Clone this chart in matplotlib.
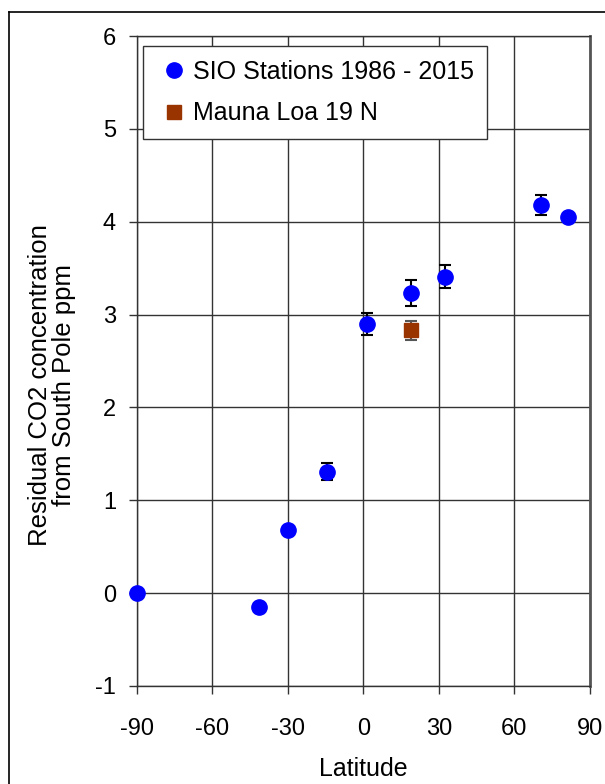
import matplotlib.pyplot as plt
from matplotlib.lines import Line2D

plt.rcParams['font.family'] = ['Liberation Sans', 'DejaVu Sans']

# SIO station latitudes and residual CO2 vs South Pole (ppm)
sio_lat = [-90, -41.5, -29.8, -14.5, 1.6, 18.8, 32.6, 70.6, 81.5]
sio_co2 = [0.0, -0.15, 0.68, 1.31, 2.90, 3.23, 3.41, 4.18, 4.05]
sio_err = [0.0, 0.03, 0.03, 0.095, 0.12, 0.14, 0.12, 0.11, 0.02]

mlo_lat = [18.8]
mlo_co2 = [2.83]
mlo_err = [0.1]

xticks = [-90, -60, -30, 0, 30, 60, 90]
yticks = [-1, 0, 1, 2, 3, 4, 5, 6]

fig = plt.figure(figsize=(6.05, 7.84), dpi=100)
ax = fig.add_axes([0.226, 0.125, 0.749, 0.829])

# outer frame (only left/top edges fall inside the picture)
fig.add_artist(Line2D([9 / 605, 9 / 605], [0, 1 - 12 / 784], transform=fig.transFigure,
                      color='black', lw=1.2))
fig.add_artist(Line2D([9 / 605, 1], [1 - 12 / 784, 1 - 12 / 784], transform=fig.transFigure,
                      color='black', lw=1.2))

ax.grid(True, color='#333333', lw=1.0)
ax.set_axisbelow(True)

ax.errorbar(mlo_lat, mlo_co2, yerr=mlo_err, fmt='none', ecolor='#555555',
            elinewidth=1.5, capsize=4.3, capthick=1.5, zorder=3)
ax.errorbar(sio_lat, sio_co2, yerr=sio_err, fmt='none', ecolor='black',
            elinewidth=1.5, capsize=4.3, capthick=1.5, zorder=3)
ax.plot(sio_lat, sio_co2, 'o', color='#0000ff', markersize=11, zorder=4,
        clip_on=False, label='SIO Stations 1986 - 2015')
ax.plot(mlo_lat, mlo_co2, 's', color='#993300', markersize=10, zorder=4,
        label='Mauna Loa 19 N')

ax.set_xlim(-90, 90)
ax.set_ylim(-1, 6)
ax.set_xticks(xticks)
ax.set_yticks(yticks)
ax.set_xticklabels([str(t) for t in xticks])
ax.set_yticklabels([str(t) for t in yticks])
ax.tick_params(axis='both', labelsize=17, length=6, width=1, color='#333333',
               direction='out')
ax.tick_params(axis='x', pad=17)
ax.tick_params(axis='y', pad=9)

for s in ['left', 'top', 'bottom']:
    ax.spines[s].set_color('#333333')
    ax.spines[s].set_linewidth(1.0)
ax.spines['right'].set_color('#555555')
ax.spines['right'].set_linewidth(2.0)

ax.set_xlabel('Latitude', fontsize=18)
ax.xaxis.set_label_coords(0.5, -0.11)
ax.set_ylabel('Residual CO2 concentration\nfrom South Pole ppm', fontsize=18.5,
              linespacing=1.0)
ax.yaxis.set_label_coords(-0.135, 0.463)

leg = ax.legend(loc='upper left', bbox_to_anchor=(0.0132, 0.9845), fontsize=18,
                frameon=True, fancybox=False, edgecolor='#333333', framealpha=1,
                handlelength=1.4, handletextpad=0.05, borderpad=0.55, labelspacing=0.7,
                borderaxespad=0)
leg.get_frame().set_linewidth(1.0)

fig.savefig('out.png', dpi=100)
